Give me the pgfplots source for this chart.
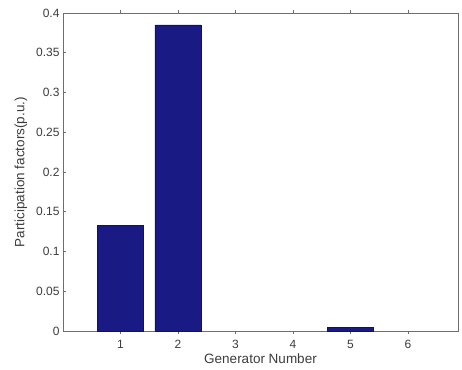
\documentclass[border=0pt]{standalone}
\usepackage{pgfplots}
\pgfplotsset{compat=1.18}
\usepackage{fontspec}
\setmainfont{Liberation Sans}
\definecolor{barblue}{RGB}{26,26,132}
\definecolor{axgray}{RGB}{110,110,110}
\definecolor{txtgray}{RGB}{60,60,60}
\begin{document}
\begin{tikzpicture}
\begin{axis}[
  at={(0pt,0pt)}, anchor=south west,
  scale only axis,
  width=395pt, height=318pt,
  xmin=0, xmax=6.87, ymin=0, ymax=0.4,
  xtick={1,2,3,4,5,6},
  ytick={0,0.05,0.1,0.15,0.2,0.25,0.3,0.35,0.4},
  yticklabel style={/pgf/number format/.cd,fixed,precision=2},
  scaled y ticks=false,
  /pgf/number format/assume math mode=true,
  tick align=inside,
  major tick length=3pt,
  xtick pos=both, ytick pos=left,
  axis line style={axgray, line width=0.8pt},
  tick style={axgray, line width=0.6pt},
  ticklabel style={font=\fontsize{12}{14}\selectfont, text=txtgray},
  xticklabel style={yshift=-3pt},
  xlabel={Generator Number},
  ylabel={Participation factors(p.u.)},
  label style={font=\fontsize{13.5}{15}\selectfont, text=txtgray},
  xlabel style={yshift=2pt},
  ylabel style={yshift=2pt},
  ybar, bar width=0.8,
]
\addplot[fill=barblue, draw=barblue!70!black, line width=0.6pt] coordinates {(1,0.1325) (2,0.385) (5,0.0047)};
\end{axis}
\useasboundingbox (-63pt,-38pt) rectangle (399pt,331pt);
\end{tikzpicture}
\end{document}
